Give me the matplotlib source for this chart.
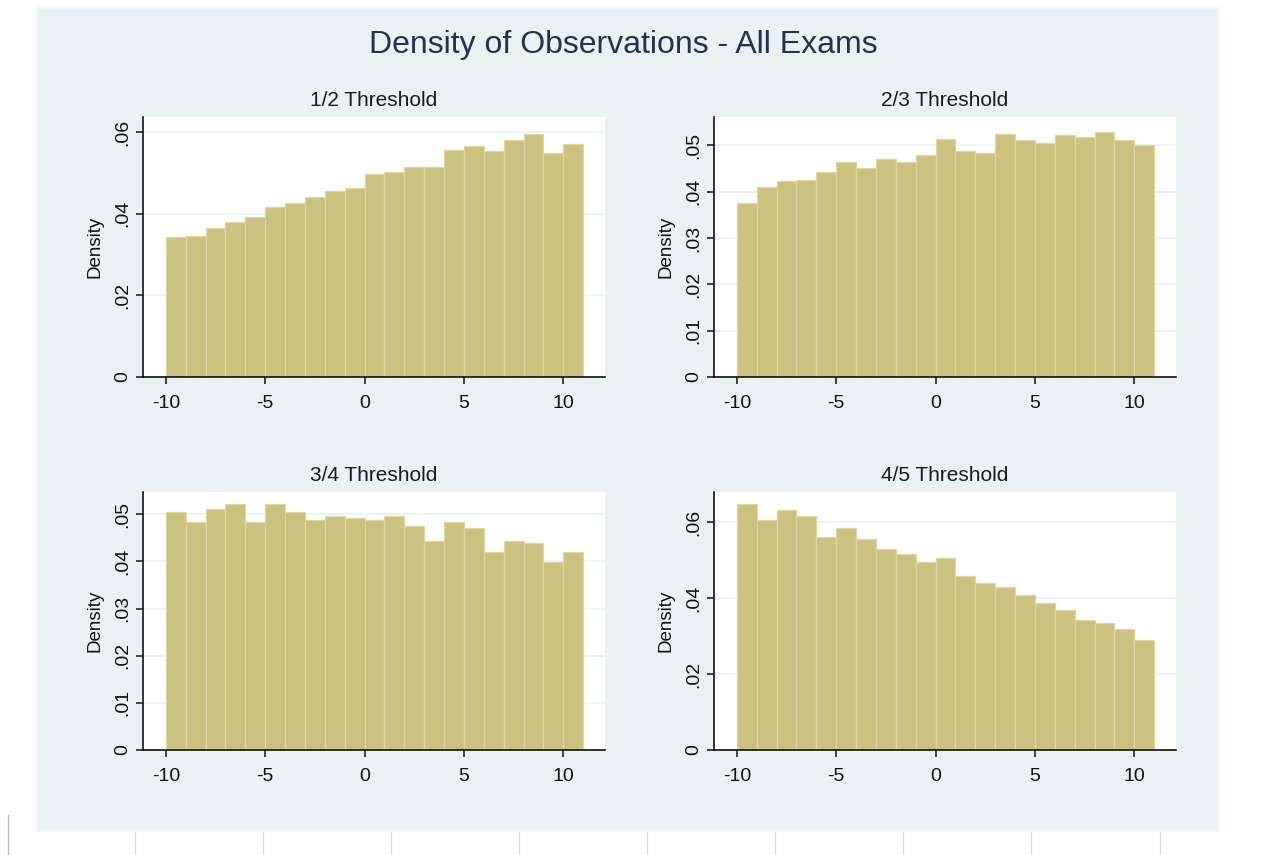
import numpy as np
import matplotlib
matplotlib.use("Agg")
import matplotlib.pyplot as plt
from matplotlib.ticker import FuncFormatter
from matplotlib.patches import Rectangle
from matplotlib.lines import Line2D

plt.rcParams['font.family'] = ['Liberation Sans', 'DejaVu Sans']
plt.rcParams['axes.unicode_minus'] = False

# histogram bins (left edges, width 1)
bin_starts = [-10, -9, -8, -7, -6, -5, -4, -3, -2, -1, 0,
              1, 2, 3, 4, 5, 6, 7, 8, 9, 10]

dens_half = [0.0342, 0.0346, 0.0366, 0.0380, 0.0393, 0.0417, 0.0426, 0.0440,
             0.0455, 0.0464, 0.0498, 0.0502, 0.0515, 0.0515, 0.0557, 0.0567,
             0.0553, 0.0581, 0.0595, 0.0549, 0.0572]
dens_two_thirds = [0.0376, 0.0409, 0.0422, 0.0426, 0.0442, 0.0463, 0.0450, 0.0471,
                   0.0463, 0.0479, 0.0513, 0.0488, 0.0483, 0.0525, 0.0512, 0.0504,
                   0.0522, 0.0517, 0.0529, 0.0512, 0.0500]
dens_three_quarters = [0.0504, 0.0484, 0.0512, 0.0521, 0.0484, 0.0521, 0.0504, 0.0487,
                       0.0497, 0.0492, 0.0487, 0.0496, 0.0475, 0.0444, 0.0484, 0.0471,
                       0.0419, 0.0444, 0.0439, 0.0398, 0.0419]
dens_four_fifths = [0.0647, 0.0605, 0.0631, 0.0617, 0.0560, 0.0585, 0.0555, 0.0530,
                    0.0515, 0.0495, 0.0504, 0.0459, 0.0439, 0.0429, 0.0409, 0.0388,
                    0.0368, 0.0343, 0.0333, 0.0318, 0.0290]

panel_titles = ["1/2 Threshold", "2/3 Threshold", "3/4 Threshold", "4/5 Threshold"]
x_ticks = [-10, -5, 0, 5, 10]
y_ticks = [
    [0, 0.02, 0.04, 0.06],
    [0, 0.01, 0.02, 0.03, 0.04, 0.05],
    [0, 0.01, 0.02, 0.03, 0.04, 0.05],
    [0, 0.02, 0.04, 0.06],
]
y_tops = [0.0637, 0.0561, 0.0547, 0.0679]

BAR_COLOR = '#CBC27F'
BAR_EDGE = '#DDD7A3'
BG_COLOR = '#EAF1F3'
GRID_COLOR = '#EAF2F3'

W, H = 1273, 855
fig = plt.figure(figsize=(W / 100, H / 100), dpi=100, facecolor='white')

# graph region background (behind the axes)
bg = Rectangle((37 / W, 1 - 830 / H), (1218 - 37) / W, (830 - 8) / H,
               transform=fig.transFigure, facecolor=BG_COLOR,
               edgecolor='#F3F7F9', linewidth=2, zorder=-10)
fig.add_artist(bg)

# faint screenshot lines below the graph
for xp in [135, 263, 391, 519, 647, 775, 903, 1031, 1160]:
    fig.add_artist(Line2D([xp / W, xp / W], [0, 1 - 832 / H], transform=fig.transFigure,
                          color='#DADADA', linewidth=0.8, zorder=-10))
fig.add_artist(Line2D([8 / W, 8 / W], [0, 1 - 815 / H], transform=fig.transFigure,
                      color='#BBBBBB', linewidth=1.0, zorder=-10))

fig.text(623 / W, 1 - 45 / H, "Density of Observations - All Exams", ha='center', va='center',
         fontsize=23, color='#25324E')

# panel rectangles in pixels: left, top, right, bottom
boxes = [(143, 117, 605, 377), (714, 117, 1176, 377),
         (143, 492, 605, 750), (714, 492, 1176, 750)]
series = [dens_half, dens_two_thirds, dens_three_quarters, dens_four_fifths]

fmt = FuncFormatter(lambda v, p: "0" if abs(v) < 1e-9 else ("%.2f" % v).lstrip("0"))

for i, (box, vals) in enumerate(zip(boxes, series)):
    l, t, r, b = box
    ax = fig.add_axes([l / W, 1 - b / H, (r - l) / W, (b - t) / H])
    ax.set_facecolor('white')
    ax.bar(bin_starts, vals, width=1, align='edge', color=BAR_COLOR,
           edgecolor=BAR_EDGE, linewidth=0.9, zorder=2)
    ax.set_xlim(-11.15, 12.1)
    ax.set_ylim(0, y_tops[i])
    ax.set_xticks(x_ticks)
    ax.set_yticks(y_ticks[i])
    ax.yaxis.set_major_formatter(fmt)
    ax.grid(axis='y', color=GRID_COLOR, linewidth=1.2, zorder=0)
    ax.set_axisbelow(True)
    for s in ['top', 'right']:
        ax.spines[s].set_visible(False)
    for s in ['left', 'bottom']:
        ax.spines[s].set_color('#111111')
        ax.spines[s].set_linewidth(1.2)
    ax.tick_params(axis='both', direction='out', length=5, width=1.1, color='#111111',
                   labelsize=14, labelcolor='#111111')
    ax.tick_params(axis='x', pad=8)
    for lab in ax.get_yticklabels():
        lab.set_rotation(90)
        lab.set_va('center')
    ax.set_ylabel("Density", fontsize=13.5, color='#111111', labelpad=8)
    ax.set_title(panel_titles[i], fontsize=15, color='#1a1a1a', pad=8)

fig.savefig("out.png", dpi=100, facecolor='white')
